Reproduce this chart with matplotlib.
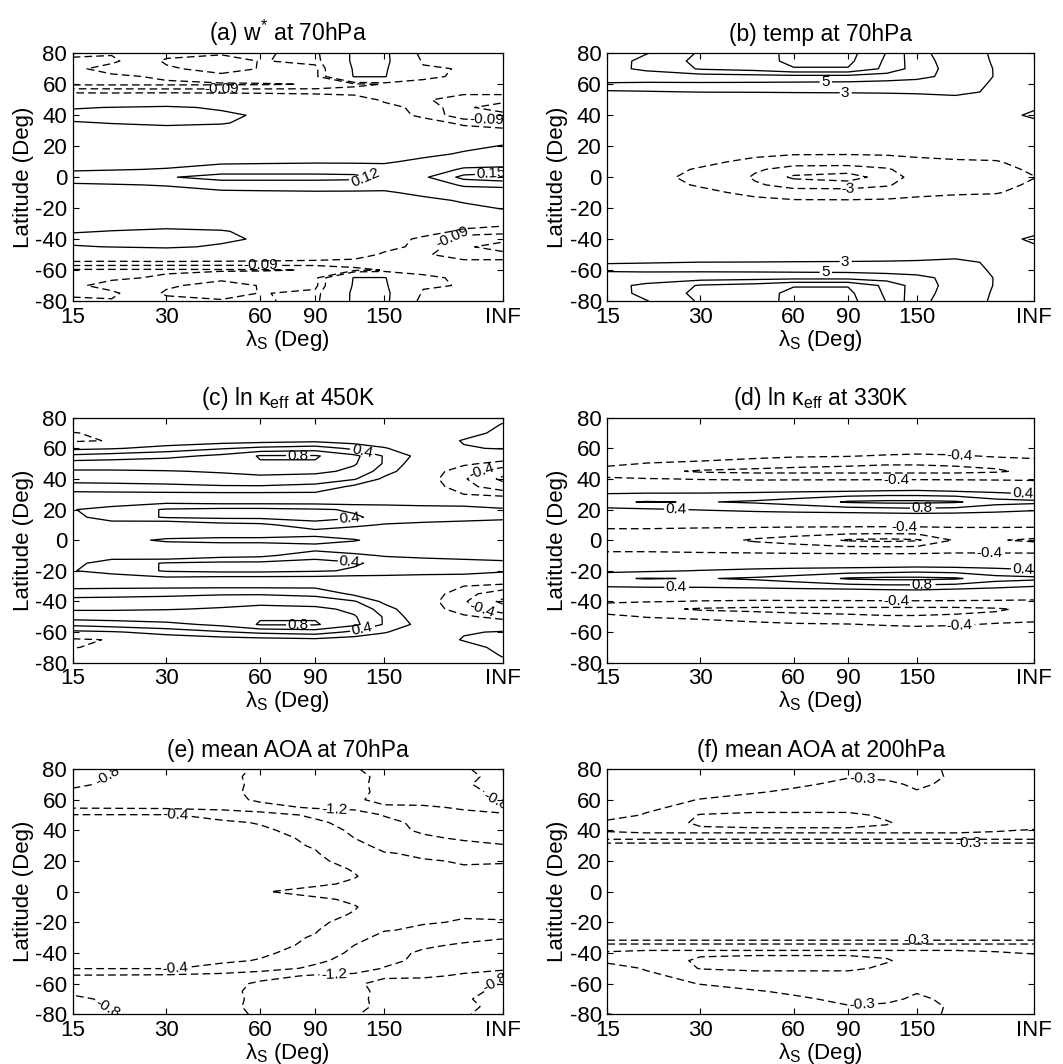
import numpy as np
import matplotlib
matplotlib.use('Agg')
import matplotlib.pyplot as plt

plt.rcParams['font.family'] = ['Liberation Sans', 'DejaVu Sans']
plt.rcParams['mathtext.fontset'] = 'custom'
plt.rcParams['mathtext.rm'] = 'Liberation Sans'
plt.rcParams['mathtext.it'] = 'Liberation Sans:italic'
plt.rcParams['mathtext.default'] = 'regular'
plt.rcParams['axes.unicode_minus'] = False
plt.rcParams['lines.dashed_pattern'] = [5.5, 3.0]
plt.rcParams['lines.scale_dashes'] = False
plt.rcParams['contour.negative_linestyle'] = 'dashed'

# ---------------- data ----------------
lam = [15, 20, 30, 45, 60, 90, 120, 150, 200, 270, 360]   # 360 plotted as INF
lat_half = [0, 5, 10, 15, 20, 25, 30, 35, 40, 45, 50, 55, 60, 65, 70, 75, 80]
xtick_vals = [15, 30, 60, 90, 150, 360]
xtick_labels = ['15', '30', '60', '90', '150', 'INF']
ytick_vals = [-80, -60, -40, -20, 0, 20, 40, 60, 80]

# (a) w* at 70hPa, rows = lat 0..80 (mirrored to the south)
w_star = [
    [0.10, 0.11, 0.118, 0.13, 0.13, 0.13, 0.13, 0.11, 0.115, 0.16, 0.17],
    [0.05, 0.055, 0.065, 0.105, 0.105, 0.105, 0.10, 0.09, 0.10, 0.125, 0.13],
    [0.02, 0.02, 0.03, 0.04, 0.045, 0.05, 0.05, 0.05, 0.08, 0.10, 0.10],
    [0.01, 0.01, 0.01, 0.01, 0.01, 0.01, 0.01, 0.01, 0.04, 0.07, 0.09],
    [0.01, 0.01, 0.01, 0.01, 0.01, 0.01, 0.01, 0.01, 0.02, 0.04, 0.065],
    [0.01, 0.01, 0.01, 0.01, 0.01, 0.01, 0.0, 0.0, 0.0, 0.02, 0.03],
    [0.03, 0.035, 0.04, 0.03, 0.02, 0.01, 0.0, -0.01, -0.02, -0.04, -0.05],
    [0.055, 0.062, 0.07, 0.065, 0.04, 0.01, -0.01, -0.02, -0.04, -0.07, -0.08],
    [0.08, 0.085, 0.09, 0.075, 0.05, 0.0, -0.02, -0.04, -0.07, -0.11, -0.11],
    [0.055, 0.062, 0.07, 0.05, 0.03, -0.01, -0.03, -0.05, -0.07, -0.115, -0.135],
    [-0.02, -0.02, 0.0, -0.01, -0.02, -0.03, -0.045, -0.065, -0.085, -0.11, -0.11],
    [-0.065, -0.066, -0.067, -0.068, -0.068, -0.07, -0.07, -0.072, -0.075, -0.08, -0.08],
    [-0.125, -0.125, -0.125, -0.124, -0.123, -0.118, -0.10, -0.088, -0.075, -0.07, -0.075],
    [-0.13, -0.125, -0.115, -0.10, -0.10, -0.10, 0.065, 0.065, -0.05, -0.07, -0.075],
    [-0.125, -0.11, -0.095, -0.075, -0.092, -0.10, 0.07, 0.07, -0.05, -0.065, -0.075],
    [-0.125, -0.125, -0.085, -0.07, -0.092, -0.08, 0.08, 0.08, -0.07, -0.07, -0.075],
    [-0.115, -0.118, -0.10, -0.095, -0.095, -0.075, 0.08, 0.08, -0.09, -0.07, -0.075],
]
w_star_levels = [-0.15, -0.12, -0.09, -0.06, 0.06, 0.12, 0.15]

# (b) temperature at 70hPa
temp = [
    [0.0, -0.5, -1.5, -3.2, -5.4, -6.2, -3.6, -2.5, -2.0, -1.8, -1.05],
    [0.0, -0.3, -1.2, -2.8, -3.6, -3.8, -3.2, -2.0, -1.6, -1.5, -0.7],
    [0.0, 0.0, -0.5, -1.6, -2.3, -2.2, -2.0, -1.5, -1.2, -1.1, -0.4],
    [0.2, 0.2, 0.0, -0.5, -0.85, -0.9, -0.8, -0.6, -0.5, -0.4, 0.0],
    [0.2, 0.2, 0.2, 0.2, 0.2, 0.2, 0.2, 0.2, 0.2, 0.2, 0.2],
    [0.3, 0.3, 0.3, 0.3, 0.3, 0.3, 0.3, 0.3, 0.3, 0.3, 0.3],
    [0.3, 0.3, 0.3, 0.3, 0.3, 0.3, 0.3, 0.3, 0.3, 0.3, 0.8],
    [0.3, 0.3, 0.3, 0.3, 0.3, 0.3, 0.3, 0.3, 0.3, 0.6, 2.0],
    [0.3, 0.3, 0.3, 0.3, 0.3, 0.3, 0.3, 0.3, 0.3, 1.5, 3.8],
    [0.3, 0.3, 0.3, 0.3, 0.3, 0.3, 0.3, 0.3, 0.4, 0.9, 2.5],
    [0.3, 0.35, 0.4, 0.45, 0.5, 0.5, 0.8, 1.3, 2.5, 1.5, 1.2],
    [2.6, 2.8, 3.05, 3.1, 3.2, 3.3, 3.4, 3.5, 3.4, 2.7, 1.8],
    [4.9, 4.8, 4.7, 4.6, 4.5, 4.4, 4.2, 4.0, 3.6, 2.8, 2.0],
    [5.4, 5.6, 6.0, 6.2, 6.3, 6.3, 6.0, 5.6, 4.2, 2.9, 2.0],
    [6.3, 7.5, 9.2, 9.8, 10.9, 10.9, 8.4, 6.0, 4.1, 2.9, 2.0],
    [6.1, 7.6, 9.6, 10.4, 11.4, 11.4, 8.6, 5.8, 4.0, 2.8, 2.0],
    [6.0, 6.9, 9.3, 10.3, 11.5, 11.6, 8.9, 5.5, 4.0, 2.7, 2.0],
]
temp_levels = [-5, -3, -1, 3, 5, 7, 9, 11]

# (c) ln kappa_eff at 450K
lnk_450 = [
    [0.05, 0.1, 0.25, 0.3, 0.3, 0.3, 0.22, 0.1, 0.05, 0.05, 0.05],
    [-0.05, 0.0, 0.0, 0.0, 0.0, 0.1, 0.05, 0.0, -0.05, -0.05, -0.05],
    [0.05, 0.1, 0.0, 0.12, 0.15, 0.35, 0.25, 0.18, 0.15, 0.12, 0.1],
    [0.15, 0.3, 0.42, 0.45, 0.45, 0.45, 0.42, 0.35, 0.3, 0.28, 0.25],
    [0.19, 0.3, 0.42, 0.45, 0.45, 0.42, 0.38, 0.35, 0.3, 0.28, 0.22],
    [0.0, 0.05, 0.15, 0.12, 0.12, 0.12, 0.1, 0.1, 0.1, 0.1, 0.1],
    [0.15, 0.15, 0.15, 0.15, 0.15, 0.15, 0.05, 0.0, 0.0, -0.2, -0.3],
    [0.3, 0.32, 0.35, 0.38, 0.38, 0.35, 0.15, 0.05, -0.05, -0.35, -0.5],
    [0.5, 0.5, 0.5, 0.52, 0.55, 0.5, 0.42, 0.15, -0.1, -0.38, -0.65],
    [0.58, 0.58, 0.59, 0.62, 0.65, 0.65, 0.55, 0.3, -0.05, -0.35, -0.5],
    [0.7, 0.7, 0.72, 0.75, 0.78, 0.78, 0.62, 0.38, 0.0, -0.15, -0.3],
    [0.45, 0.5, 0.55, 0.65, 0.82, 0.82, 0.65, 0.38, 0.1, 0.0, 0.0],
    [0.15, 0.18, 0.28, 0.38, 0.45, 0.5, 0.35, 0.22, 0.0, 0.18, 0.22],
    [-0.25, -0.18, 0.05, 0.1, 0.12, 0.15, 0.1, 0.05, 0.05, 0.22, 0.3],
    [-0.22, -0.1, 0.0, 0.0, 0.0, 0.0, 0.0, 0.0, 0.0, 0.1, 0.28],
    [0.0, 0.0, 0.0, 0.0, 0.0, 0.0, 0.0, 0.0, 0.0, 0.05, 0.22],
    [0.0, 0.0, 0.0, 0.0, 0.0, 0.0, 0.0, 0.0, 0.0, 0.0, 0.15],
]
lnk_450_levels = [-0.6, -0.4, -0.2, 0.2, 0.4, 0.6, 0.8]

# (d) ln kappa_eff at 330K
lnk_330 = [
    [-0.5, -0.55, -0.65, -0.85, -0.95, -1.25, -1.3, -1.25, -0.75, -0.78, -0.85],
    [-0.5, -0.5, -0.55, -0.6, -0.65, -0.7, -0.72, -0.7, -0.6, -0.6, -0.62],
    [-0.3, -0.3, -0.3, -0.3, -0.3, -0.3, -0.3, -0.3, -0.3, -0.3, -0.3],
    [0.1, 0.1, 0.1, 0.1, 0.1, 0.1, 0.1, 0.1, 0.1, 0.1, 0.1],
    [0.3, 0.35, 0.42, 0.5, 0.55, 0.6, 0.65, 0.7, 0.65, 0.55, 0.45],
    [0.75, 0.82, 0.78, 0.85, 0.95, 1.25, 1.3, 1.3, 1.25, 0.95, 0.9],
    [0.45, 0.5, 0.5, 0.55, 0.6, 0.65, 0.7, 0.7, 0.65, 0.55, 0.42],
    [-0.2, -0.2, -0.15, -0.1, -0.05, 0.0, 0.05, 0.1, 0.0, -0.1, -0.2],
    [-0.35, -0.38, -0.42, -0.45, -0.45, -0.45, -0.45, -0.45, -0.45, -0.45, -0.45],
    [-0.6, -0.7, -0.85, -0.9, -0.9, -0.9, -0.9, -0.9, -0.9, -0.85, -0.7],
    [-0.3, -0.42, -0.5, -0.6, -0.7, -0.75, -0.78, -0.78, -0.75, -0.7, -0.6],
    [-0.1, -0.15, -0.2, -0.3, -0.35, -0.38, -0.45, -0.5, -0.45, -0.35, -0.3],
    [-0.1, -0.1, -0.1, -0.1, -0.1, -0.1, -0.1, -0.1, -0.1, -0.1, -0.1],
    [-0.1, -0.1, -0.1, -0.1, -0.1, -0.1, -0.1, -0.1, -0.1, -0.1, -0.1],
    [-0.1, -0.1, -0.1, -0.1, -0.1, -0.1, -0.1, -0.1, -0.1, -0.1, -0.1],
    [-0.1, -0.1, -0.1, -0.1, -0.1, -0.1, -0.1, -0.1, -0.1, -0.1, -0.1],
    [-0.1, -0.1, -0.1, -0.1, -0.1, -0.1, -0.1, -0.1, -0.1, -0.1, -0.1],
]
lnk_330_levels = [-1.2, -0.8, -0.4, 0.4, 0.8, 1.2]

# (e) mean age of air at 70hPa
aoa_70 = [
    [-0.2, -0.2, -0.25, -0.3, -0.38, -0.5, -0.6, -0.65, -0.7, -0.7, -0.7],
    [-0.2, -0.2, -0.22, -0.25, -0.3, -0.35, -0.45, -0.6, -0.65, -0.7, -0.7],
    [-0.2, -0.2, -0.2, -0.22, -0.25, -0.3, -0.38, -0.55, -0.65, -0.72, -0.75],
    [-0.2, -0.2, -0.2, -0.22, -0.25, -0.32, -0.42, -0.6, -0.72, -0.78, -0.78],
    [-0.2, -0.2, -0.2, -0.22, -0.28, -0.35, -0.5, -0.68, -0.78, -0.82, -0.81],
    [-0.2, -0.2, -0.2, -0.23, -0.3, -0.38, -0.6, -0.78, -0.85, -0.9, -0.95],
    [-0.22, -0.22, -0.22, -0.25, -0.32, -0.42, -0.7, -0.9, -1.0, -1.1, -1.18],
    [-0.23, -0.23, -0.23, -0.27, -0.33, -0.45, -0.8, -1.05, -1.15, -1.25, -1.3],
    [-0.25, -0.25, -0.25, -0.3, -0.35, -0.55, -0.9, -1.1, -1.25, -1.3, -1.3],
    [-0.28, -0.28, -0.3, -0.35, -0.42, -0.7, -1.0, -1.15, -1.25, -1.3, -1.3],
    [-0.38, -0.38, -0.38, -0.5, -0.6, -0.9, -1.1, -1.21, -1.25, -1.3, -1.3],
    [-0.85, -0.86, -0.88, -0.95, -1.1, -1.25, -1.25, -1.25, -1.25, -1.15, -0.9],
    [-0.9, -0.88, -1.0, -1.1, -1.25, -1.3, -1.25, -1.1, -1.05, -0.9, -0.75],
    [-0.85, -0.9, -1.0, -1.15, -1.25, -1.3, -1.25, -1.15, -1.0, -0.85, -0.75],
    [-0.75, -0.85, -0.95, -1.1, -1.28, -1.3, -1.28, -1.1, -1.0, -0.82, -0.72],
    [-0.7, -0.82, -1.0, -1.15, -1.25, -1.3, -1.25, -1.15, -0.95, -0.85, -0.72],
    [-0.7, -0.78, -0.95, -1.1, -1.25, -1.3, -1.22, -1.1, -1.0, -0.82, -0.7],
]
aoa_70_levels = [-1.6, -1.2, -0.8, -0.4]

# (f) mean age of air at 200hPa
aoa_200 = [
    [-0.05, -0.05, -0.05, -0.05, -0.05, -0.05, -0.05, -0.05, -0.05, -0.05, -0.05],
    [-0.05, -0.05, -0.05, -0.05, -0.05, -0.05, -0.05, -0.05, -0.05, -0.05, -0.05],
    [-0.05, -0.05, -0.05, -0.05, -0.05, -0.05, -0.05, -0.05, -0.05, -0.05, -0.05],
    [-0.05, -0.05, -0.05, -0.05, -0.05, -0.05, -0.05, -0.05, -0.05, -0.05, -0.05],
    [-0.05, -0.05, -0.05, -0.05, -0.05, -0.05, -0.05, -0.05, -0.05, -0.05, -0.05],
    [-0.05, -0.05, -0.05, -0.05, -0.05, -0.05, -0.05, -0.05, -0.05, -0.05, -0.05],
    [-0.1, -0.1, -0.1, -0.1, -0.1, -0.1, -0.1, -0.1, -0.1, -0.1, -0.1],
    [-0.7, -0.7, -0.7, -0.7, -0.7, -0.7, -0.7, -0.7, -0.7, -0.7, -0.7],
    [-0.58, -0.55, -0.55, -0.55, -0.55, -0.55, -0.55, -0.55, -0.55, -0.58, -0.62],
    [-0.35, -0.45, -0.65, -0.7, -0.7, -0.7, -0.62, -0.5, -0.45, -0.45, -0.45],
    [-0.2, -0.32, -0.62, -0.65, -0.65, -0.65, -0.55, -0.45, -0.4, -0.4, -0.4],
    [-0.2, -0.25, -0.4, -0.5, -0.5, -0.5, -0.45, -0.4, -0.4, -0.4, -0.4],
    [-0.15, -0.2, -0.31, -0.4, -0.45, -0.45, -0.45, -0.4, -0.4, -0.4, -0.4],
    [-0.1, -0.15, -0.2, -0.28, -0.35, -0.42, -0.4, -0.32, -0.4, -0.4, -0.4],
    [-0.05, -0.1, -0.15, -0.2, -0.25, -0.38, -0.36, -0.25, -0.38, -0.4, -0.4],
    [-0.05, -0.08, -0.1, -0.15, -0.2, -0.28, -0.25, -0.2, -0.35, -0.4, -0.4],
    [-0.32, -0.1, -0.05, -0.1, -0.15, -0.2, -0.2, -0.15, -0.4, -0.4, -0.4],
]
aoa_200_levels = [-0.9, -0.6, -0.3]

titles = [r'(a) w$^{*}$ at 70hPa', '(b) temp at 70hPa',
          r'(c) ln $\kappa_{eff}$ at 450K', r'(d) ln $\kappa_{eff}$ at 330K',
          '(e) mean AOA at 70hPa', '(f) mean AOA at 200hPa']

# contour label placements: level -> [(lambda, lat), ...]
labels_a = {-0.09: [(45, 57), (60, -57), (320, 37), (250, -42)],
            0.12: [(130, 0)], 0.15: [(330, 2)]}
labels_b = {5: [(76, 62), (76, -62)], 3: [(88, 54), (88, -54)], -3: [(90, -7)]}
labels_c = {0.8: [(79, 55), (79, -55)], 0.4: [(125, 50), (125, -50), (116, 13), (116, -13)],
            -0.4: [(309, 44), (309, -44)]}
labels_d = {-0.4: [(206, 53), (129, 40), (206, -53), (129, -40), (137, 7), (257, -7)],
            0.4: [(25, 22), (25, -30), (330, 29), (330, -22)],
            0.8: [(156, 23), (156, -28)]}
labels_e = {-0.4: [(32, 51), (32, -51)], -0.8: [(20, 72), (20, -72), (340, 58), (340, -58)],
            -1.2: [(104, 60), (104, -60)]}
labels_f = {-0.3: [(100, 74), (220, 33), (150, -33), (100, -74)]}

# ---------------- plotting ----------------
lat_full = np.concatenate([-np.array(lat_half[:0:-1]), np.array(lat_half)])


def full_field(half):
    h = np.array(half, dtype=float)
    return np.vstack([h[:0:-1], h])


fig = plt.figure(figsize=(10.63, 10.64), dpi=100)
W, H = 1063.0, 1064.0
col_left = [72.7, 607.3]
col_width = [430.0, 427.0]
row_top = [53.3, 417.7, 769.0]
row_bot = [301.0, 662.7, 1014.3]

panels = [(w_star, w_star_levels, labels_a), (temp, temp_levels, labels_b),
          (lnk_450, lnk_450_levels, labels_c), (lnk_330, lnk_330_levels, labels_d),
          (aoa_70, aoa_70_levels, labels_e), (aoa_200, aoa_200_levels, labels_f)]

fmt = lambda v: f'{v:g}'

for i, (data, levels, labs) in enumerate(panels):
    r, c = divmod(i, 2)
    ax = fig.add_axes([col_left[c] / W, 1 - row_bot[r] / H, col_width[c] / W,
                       (row_bot[r] - row_top[r]) / H])
    ax.set_xscale('log')
    Z = full_field(data)
    for lv in levels:
        cs = ax.contour(lam, lat_full, Z, levels=[lv], colors='k', linewidths=0.95)
        if lv in labs and len(cs.allsegs[0]) > 0:
            ax.clabel(cs, manual=labs[lv], inline=True, fmt=fmt, fontsize=11,
                      inline_spacing=2)
    ax.set_xlim(15, 360)
    ax.set_ylim(-80, 80)
    ax.set_xticks(xtick_vals)
    ax.set_xticklabels(xtick_labels)
    ax.xaxis.set_minor_locator(matplotlib.ticker.NullLocator())
    ax.set_yticks(ytick_vals)
    ax.set_yticklabels([str(v) for v in ytick_vals])
    ax.tick_params(direction='in', top=True, right=True, length=4, width=0.8,
                   labelsize=16, pad=4)
    for s in ax.spines.values():
        s.set_linewidth(0.9)
    ax.set_title(titles[i], fontsize=16.5, pad=9)
    ax.set_xlabel(r'$\lambda_S$ (Deg)', fontsize=16, labelpad=0)
    ax.set_ylabel('Latitude (Deg)', fontsize=16, labelpad=1)

fig.savefig('out.png', dpi=100)
